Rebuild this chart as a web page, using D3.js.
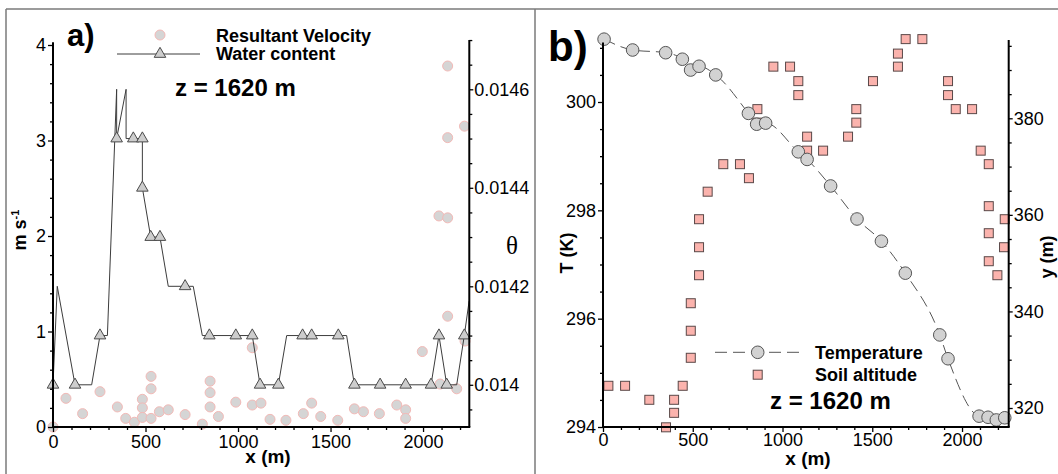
<!DOCTYPE html>
<html>
<head>
<meta charset="utf-8">
<script src="https://cdn.jsdelivr.net/npm/d3@7"></script>
<style>
  html, body { margin: 0; padding: 0; background: #fff; }
  svg text { font-family: Arial, "Liberation Sans", sans-serif; fill: #000; }
</style>
</head>
<body>
<svg id="chart" width="1058" height="474"></svg>
<script>
// ---------- Panel a: resultant velocity (m/s) and water content along x ----------
const velX = [0, 70, 160, 254, 348, 393, 440, 483, 483, 483, 530, 530, 530, 575, 623,
  714, 807, 849, 849, 849, 894, 988, 1077, 1077, 1124, 1173, 1259, 1353, 1398, 1447,
  1539, 1629, 1678, 1764, 1858, 1906, 1906, 1996, 2092, 2133, 2182, 2227, 2133, 2224,
  2133, 2086, 2133];
const velV = [0.00, 0.30, 0.14, 0.37, 0.21, 0.09, 0.05, 0.29, 0.20, 0.10, 0.53, 0.40, 0.09,
  0.16, 0.18, 0.13, 0.03, 0.48, 0.36, 0.21, 0.11, 0.26, 0.23, 0.83, 0.25, 0.08, 0.07,
  0.14, 0.25, 0.11, 0.07, 0.19, 0.16, 0.14, 0.23, 0.18, 0.09, 0.79, 0.45, 1.16, 0.40,
  0.90, 3.78, 3.15, 3.03, 2.21, 2.19];

// water content profile (line vertices)
const waterX = [0, 23, 119, 209, 254, 294, 344, 344, 395, 395, 434, 483, 483, 528, 578,
  623, 714, 758, 807, 845, 988, 1077, 1119, 1218, 1263, 1349, 1398, 1542, 1587, 1629,
  1768, 1906, 2043, 2086, 2128, 2182, 2223, 2249];
const waterTheta = [0.0140, 0.0142, 0.0140, 0.0140, 0.0141, 0.0141, 0.0146, 0.0145, 0.0146,
  0.0145, 0.0145, 0.0145, 0.0144, 0.0143, 0.0143, 0.0142, 0.0142, 0.0142, 0.0141, 0.0141,
  0.0141, 0.0141, 0.0140, 0.0140, 0.0141, 0.0141, 0.0141, 0.0141, 0.0141, 0.0140, 0.0140,
  0.0140, 0.0140, 0.0141, 0.0140, 0.0140, 0.0141, 0.01417];
// triangle symbols placed along the water content line
const waterMarkX = [0, 119, 254, 344, 434, 483, 483, 528, 578, 714, 845, 988, 1077, 1119,
  1218, 1349, 1398, 1542, 1629, 1768, 1906, 2043, 2086, 2128, 2223];
const waterMarkTheta = [0.0140, 0.0140, 0.0141, 0.0145, 0.0145, 0.0145, 0.0144, 0.0143,
  0.0143, 0.0142, 0.0141, 0.0141, 0.0141, 0.0140, 0.0140, 0.0141, 0.0141, 0.0141, 0.0140,
  0.0140, 0.0140, 0.0140, 0.0141, 0.0140, 0.0141];

const xTicksA = [0, 500, 1000, 1500, 2000];
const vTicks = [0, 1, 2, 3, 4];
const thetaTicks = [0.014, 0.0142, 0.0144, 0.0146];

// ---------- Panel b: temperature (K) and soil altitude (m) along x ----------
const tempX = [6, 165, 349, 442, 488, 535, 628, 810, 856, 906, 1088, 1137, 1268, 1415,
  1551, 1684, 1876, 1922, 2095, 2145, 2191, 2238];
const tempT = [301.16, 300.96, 300.91, 300.79, 300.59, 300.66, 300.50, 299.79, 299.59,
  299.61, 299.08, 298.94, 298.45, 297.84, 297.43, 296.84, 295.70, 295.26, 294.20, 294.18,
  294.13, 294.17];

const soilX = [30, 123, 258, 351, 396, 396, 444, 489, 489, 489, 535, 535, 535, 583, 670,
  763, 813, 860, 860, 949, 1042, 1088, 1088, 1137, 1137, 1226, 1365, 1411, 1411, 1504,
  1643, 1643, 1686, 1779, 1922, 1922, 1965, 2056, 2104, 2149, 2149, 2238, 2149, 2234,
  2149, 2197];
const soilY = [324.6, 324.6, 321.7, 316.0, 321.7, 319.0, 324.6, 330.4, 336.0, 341.7, 347.5,
  353.3, 359.1, 364.8, 370.5, 370.5, 367.6, 381.9, 379.1, 390.7, 390.7, 387.7, 384.8,
  376.2, 373.3, 373.3, 376.2, 379.1, 381.9, 387.7, 390.7, 393.4, 396.4, 396.4, 387.7,
  384.8, 381.9, 381.9, 373.3, 370.5, 361.8, 359.1, 356.2, 353.3, 350.4, 347.5];

const xTicksB = [0, 500, 1000, 1500, 2000];
const tTicks = [294, 296, 298, 300];
const yTicks = [320, 340, 360, 380];

// ---------- styles ----------
const AXIS_W = 2;
const velFill = "#d5d5d5", velStroke = "#f3b9b6";
const triFill = "#cdcdcd", triStroke = "#4a4a4a";
const tempFill = "#d2d2d2", tempStroke = "#555";
const soilFill = "#fbb3ad", soilStroke = "#5a4848";

const svg = d3.select("#chart");
svg.append("rect").attr("width", 1058).attr("height", 474).attr("fill", "#fff");

// panel frames
const frame = svg.append("g").attr("stroke", "#7a7a7a").attr("stroke-width", 1.5);
frame.append("line").attr("x1", 6).attr("y1", 9).attr("x2", 1058).attr("y2", 9);
frame.append("line").attr("x1", 6).attr("y1", 9).attr("x2", 6).attr("y2", 474);
frame.append("line").attr("x1", 535).attr("y1", 9).attr("x2", 535).attr("y2", 474);

// helper: major + minor ticks, no domain path
function ticks(g, axisFn, scale, major, minor, fmt, size, pad, fontSize) {
  const gMin = g.append("g").call(axisFn(scale).tickValues(minor).tickSize(3).tickFormat(""));
  const gMaj = g.append("g").call(axisFn(scale).tickValues(major).tickSize(size)
    .tickPadding(pad).tickFormat(fmt));
  [gMin, gMaj].forEach(a => {
    a.select(".domain").remove();
    a.selectAll("line").attr("stroke", "#000").attr("stroke-width", 1.3);
    a.selectAll("text").attr("font-size", fontSize)
      .attr("font-family", 'Arial, "Liberation Sans", sans-serif').attr("fill", "#000");
  });
}
function axisLine(g, x1, y1, x2, y2) {
  g.append("line").attr("x1", x1).attr("y1", y1).attr("x2", x2).attr("y2", y2)
    .attr("stroke", "#000").attr("stroke-width", AXIS_W);
}
function range(a, b, step, skip) {
  const out = [];
  for (let v = a; v <= b + 1e-9; v += step) {
    const r = +v.toFixed(6);
    if (!skip.some(s => Math.abs(s - r) < step / 10)) out.push(r);
  }
  return out;
}

// ================= Panel a =================
const xA = d3.scaleLinear().domain([0, 2250]).range([53, 469.3]);
const vA = d3.scaleLinear().domain([0, 4]).range([427, 45]);
const thA = d3.scaleLinear().domain([0.014, 0.0146]).range([384.8, 89.3]);

const gA = svg.append("g");

// velocity points
gA.append("g").selectAll("circle").data(velX.map((x, i) => [x, velV[i]])).join("circle")
  .attr("cx", d => xA(d[0])).attr("cy", d => vA(d[1])).attr("r", 5)
  .attr("fill", velFill).attr("stroke", velStroke).attr("stroke-width", 1);

// water content line + triangles
gA.append("path")
  .datum(waterX.map((x, i) => [x, waterTheta[i]]))
  .attr("d", d3.line().x(d => xA(d[0])).y(d => thA(d[1])))
  .attr("fill", "none").attr("stroke", "#3c3c3c").attr("stroke-width", 1);

const tri = d3.symbol().type(d3.symbolTriangle).size(58);
gA.append("g").selectAll("path").data(waterMarkX.map((x, i) => [x, waterMarkTheta[i]])).join("path")
  .attr("d", tri).attr("transform", d => `translate(${xA(d[0])},${thA(d[1])})`)
  .attr("fill", triFill).attr("stroke", triStroke).attr("stroke-width", 1);

// axes
const axA = gA.append("g");
ticks(axA.append("g").attr("transform", "translate(53,0)"), d3.axisLeft, vA,
  vTicks, range(0, 4, 0.2, vTicks), d3.format("d"), 5, 2, 18);
ticks(axA.append("g").attr("transform", "translate(469.3,0)"), d3.axisRight, thA,
  thetaTicks, range(0.01395, 0.0147, 0.00005, thetaTicks), d => d3.format("")(+d.toFixed(4)), 4, 1, 18);
ticks(axA.append("g").attr("transform", "translate(0,427)"), d3.axisBottom, xA,
  xTicksA, range(0, 2200, 100, xTicksA), d3.format("d"), 5, 3, 18);
axisLine(axA, xA(0), vA(0), xA(0), vA(4.03));
axisLine(axA, xA(2250), vA(0), xA(2250), thA(0.0147));
axisLine(axA, xA(0) - 1, vA(0), xA(2250) + 1, vA(0));

// legend a
gA.append("circle").attr("cx", 160).attr("cy", 35).attr("r", 5)
  .attr("fill", velFill).attr("stroke", velStroke);
gA.append("line").attr("x1", 117).attr("x2", 200).attr("y1", 54).attr("y2", 54)
  .attr("stroke", "#3c3c3c").attr("stroke-width", 1);
gA.append("path").attr("d", tri).attr("transform", "translate(160,54)")
  .attr("fill", triFill).attr("stroke", triStroke);
gA.append("text").attr("x", 216).attr("y", 42).attr("font-size", 18).attr("font-weight", "bold")
  .text("Resultant Velocity");
gA.append("text").attr("x", 216).attr("y", 60).attr("font-size", 18).attr("font-weight", "bold")
  .text("Water content");

gA.append("text").attr("x", 175).attr("y", 96).attr("font-size", 24).attr("font-weight", "bold")
  .text("z = 1620 m");
gA.append("text").attr("x", 67).attr("y", 46).attr("font-size", 31).attr("font-weight", "bold")
  .text("a)");

// axis titles a
const msLbl = gA.append("text").attr("transform", "translate(26,230) rotate(-90)")
  .attr("text-anchor", "middle").attr("font-size", 18).attr("font-weight", "bold");
msLbl.append("tspan").text("m s");
msLbl.append("tspan").attr("dy", -7).attr("font-size", 11).text("-1");
gA.append("text").attr("x", 512).attr("y", 254).attr("text-anchor", "middle")
  .attr("font-size", 25).style("font-family", '"Liberation Serif", "Times New Roman", serif')
  .text("θ");
gA.append("text").attr("x", 268).attr("y", 463).attr("text-anchor", "middle")
  .attr("font-size", 19).attr("font-weight", "bold").text("x (m)");

// ================= Panel b =================
const xB = d3.scaleLinear().domain([0, 2260]).range([603, 1008.7]);
const tB = d3.scaleLinear().domain([294, 300]).range([427, 102]);
const yB = d3.scaleLinear().domain([320, 380]).range([408, 118.3]);

const gB = svg.append("g");

// soil altitude squares
const SQ = 9;
gB.append("g").selectAll("rect").data(soilX.map((x, i) => [x, soilY[i]])).join("rect")
  .attr("x", d => xB(d[0]) - SQ / 2).attr("y", d => yB(d[1]) - SQ / 2)
  .attr("width", SQ).attr("height", SQ)
  .attr("fill", soilFill).attr("stroke", soilStroke).attr("stroke-width", 1);

// temperature dashed curve + circles
gB.append("path")
  .datum(tempX.map((x, i) => [x, tempT[i]]))
  .attr("d", d3.line().curve(d3.curveMonotoneX).x(d => xB(d[0])).y(d => tB(d[1])))
  .attr("fill", "none").attr("stroke", "#555").attr("stroke-width", 1)
  .attr("stroke-dasharray", "12,6");
gB.append("g").selectAll("circle").data(tempX.map((x, i) => [x, tempT[i]])).join("circle")
  .attr("cx", d => xB(d[0])).attr("cy", d => tB(d[1])).attr("r", 6.3)
  .attr("fill", tempFill).attr("stroke", tempStroke).attr("stroke-width", 1);

// axes b
const axB = gB.append("g");
ticks(axB.append("g").attr("transform", "translate(603,0)"), d3.axisLeft, tB,
  tTicks, range(294, 301, 0.5, tTicks), d3.format("d"), 5, 2, 18);
ticks(axB.append("g").attr("transform", "translate(1008.7,0)"), d3.axisRight, yB,
  yTicks, range(320, 395, 5, yTicks), d3.format("d"), 4, 1, 18);
ticks(axB.append("g").attr("transform", "translate(0,427)"), d3.axisBottom, xB,
  xTicksB, range(0, 2200, 100, xTicksB), d3.format("d"), 5, 1, 18);
axisLine(axB, xB(0), tB(294), xB(0), tB(301.1));
axisLine(axB, xB(2260), tB(294), xB(2260), yB(396.2));
axisLine(axB, xB(0) - 1, tB(294), xB(2260) + 1, tB(294));

// legend b
gB.append("line").attr("x1", 715).attr("x2", 801).attr("y1", 352.3).attr("y2", 352.3)
  .attr("stroke", "#555").attr("stroke-width", 1).attr("stroke-dasharray", "12,6");
gB.append("circle").attr("cx", 757.7).attr("cy", 352.3).attr("r", 6.3)
  .attr("fill", tempFill).attr("stroke", tempStroke);
gB.append("rect").attr("x", 757.7 - SQ / 2).attr("y", 374.7 - SQ / 2).attr("width", SQ).attr("height", SQ)
  .attr("fill", soilFill).attr("stroke", soilStroke);
gB.append("text").attr("x", 815).attr("y", 359).attr("font-size", 18).attr("font-weight", "bold")
  .text("Temperature");
gB.append("text").attr("x", 815).attr("y", 381).attr("font-size", 18).attr("font-weight", "bold")
  .text("Soil altitude");

gB.append("text").attr("x", 770).attr("y", 409).attr("font-size", 24).attr("font-weight", "bold")
  .text("z = 1620 m");
gB.append("text").attr("x", 548).attr("y", 61).attr("font-size", 42).attr("font-weight", "bold")
  .text("b)");

// axis titles b
gB.append("text").attr("transform", "translate(573,253) rotate(-90)").attr("text-anchor", "middle")
  .attr("font-size", 18).attr("font-weight", "bold").text("T (K)");
gB.append("text").attr("transform", "translate(1053,257) rotate(-90)").attr("text-anchor", "middle")
  .attr("font-size", 18).attr("font-weight", "bold").text("y (m)");
gB.append("text").attr("x", 808).attr("y", 465).attr("text-anchor", "middle")
  .attr("font-size", 19).attr("font-weight", "bold").text("x (m)");
</script>
</body>
</html>
